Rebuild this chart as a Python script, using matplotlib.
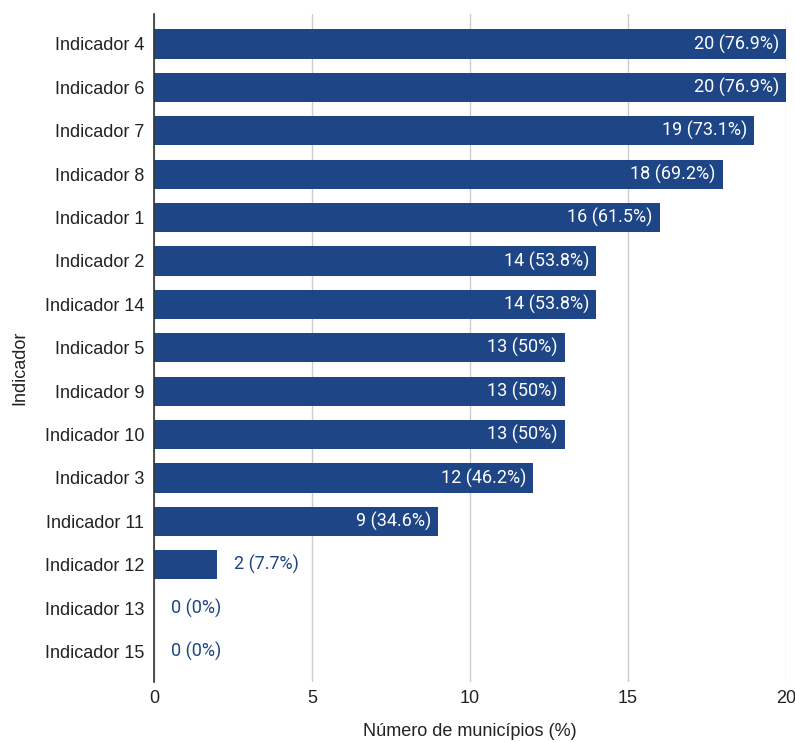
import matplotlib
matplotlib.use("Agg")
import matplotlib.pyplot as plt

categories = ["Indicador 4", "Indicador 6", "Indicador 7", "Indicador 8", "Indicador 1",
              "Indicador 2", "Indicador 14", "Indicador 5", "Indicador 9", "Indicador 10",
              "Indicador 3", "Indicador 11", "Indicador 12", "Indicador 13", "Indicador 15"]
values = [20, 20, 19, 18, 16, 14, 14, 13, 13, 13, 12, 9, 2, 0, 0]
labels = ["20 (76.9%)", "20 (76.9%)", "19 (73.1%)", "18 (69.2%)", "16 (61.5%)",
          "14 (53.8%)", "14 (53.8%)", "13 (50%)", "13 (50%)", "13 (50%)",
          "12 (46.2%)", "9 (34.6%)", "2 (7.7%)", "0 (0%)", "0 (0%)"]
xticks = [0, 5, 10, 15, 20]

bar_color = "#1e4586"

fig = plt.figure(figsize=(7.95, 7.42), dpi=100)
ax = fig.add_axes([0.1937, 0.0809, 0.7950, 0.9002])

y = list(range(len(categories)))
ax.barh(y, values, height=0.67, color=bar_color, zorder=3)

for yi, v, lab in zip(y, values, labels):
    if v >= 5:
        ax.annotate(lab, (v, yi), xytext=(-5, 0), textcoords="offset points",
                    ha="right", va="center", color="white", fontsize=13,
                    family="Roboto", zorder=4)
    else:
        ax.annotate(lab, (v, yi), xytext=(12, 0), textcoords="offset points",
                    ha="left", va="center", color=bar_color, fontsize=13,
                    family="Roboto", zorder=4)

ax.set_ylim(len(categories) - 1 + 0.7, -0.69)
ax.set_xlim(0, 20)
ax.set_yticks(y)
ax.set_yticklabels(categories, fontsize=13, family="Liberation Sans", color="#222222")
ax.set_xticks(xticks)
ax.set_xticklabels([str(t) for t in xticks], fontsize=13, family="Liberation Sans", color="#222222")
ax.tick_params(axis="both", length=0)
ax.tick_params(axis="y", pad=7)
ax.tick_params(axis="x", pad=6)

ax.grid(axis="x", color="#cccccc", linewidth=1, zorder=0)
for s in ["top", "right", "bottom"]:
    ax.spines[s].set_visible(False)
ax.spines["left"].set_color("#333333")
ax.spines["left"].set_linewidth(1.2)
ax.spines["left"].set_zorder(5)

fig.text(0.5912, 1 - 732 / 742, "Número de municípios (%)", fontsize=13,
         family="Liberation Sans", color="#222222", ha="center", va="center")
fig.text(20 / 795, 1 - 368 / 742, "Indicador", fontsize=13, rotation=90,
         family="Liberation Sans", color="#222222", ha="center", va="center")

fig.savefig("out.png", dpi=100)
